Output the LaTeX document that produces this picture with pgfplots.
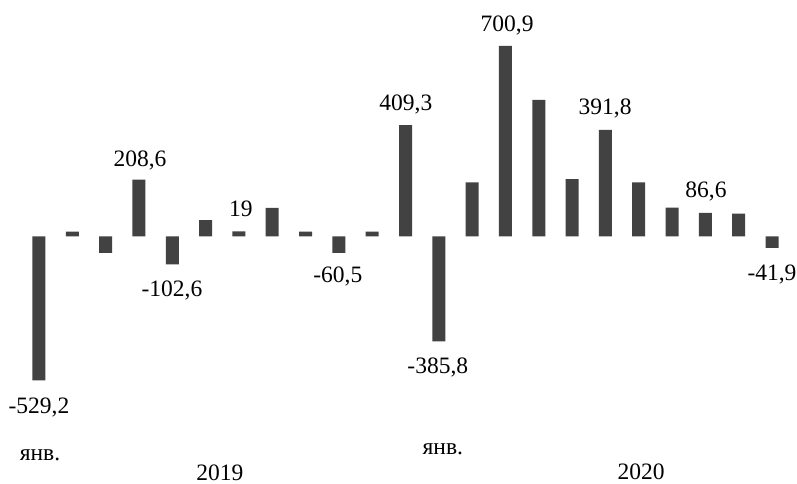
\documentclass[border=0pt]{standalone}
\usepackage{fontspec}
\setmainfont{Liberation Serif}
\usepackage{pgfplots}
\pgfplotsset{compat=1.18}
\definecolor{barc}{RGB}{66,66,66}

\begin{document}
\fontsize{23.5}{28}\selectfont
\begin{tikzpicture}
\begin{axis}[
    scale only axis,
    width=797pt, height=484pt,
    hide axis,
    clip=false,
    xmin=-1.17, xmax=22.75,
    ymin=-910, ymax=869.5,
    ybar, bar width=13pt,
]
\addplot[fill=barc, draw=none] coordinates {
    (0,-529.2) (1,18) (2,-60) (3,208.6) (4,-102.6) (5,60)
    (6,19) (7,105) (8,18) (9,-60.5) (10,18) (11,409.3)
    (12,-385.8) (13,199) (14,700.9) (15,502) (16,211) (17,391.8)
    (18,199) (19,106) (20,86.6) (21,84) (22,-41.9)
};
% value labels
\node[anchor=base] at (axis cs:0,-649) {-529,2};
\node[anchor=base] at (axis cs:3.03,259) {208,6};
\node[anchor=base] at (axis cs:3.99,-222) {-102,6};
\node[anchor=base] at (axis cs:6.06,72) {19};
\node[anchor=base] at (axis cs:8.97,-171) {-60,5};
\node[anchor=base] at (axis cs:11.01,465) {409,3};
\node[anchor=base] at (axis cs:11.97,-502) {-385,8};
\node[anchor=base] at (axis cs:14.05,755) {700,9};
\node[anchor=base] at (axis cs:16.99,447) {391,8};
\node[anchor=base] at (axis cs:20.02,142) {86,6};
\node[anchor=base] at (axis cs:22,-160) {-41,9};
% month / year labels
\node[anchor=base] at (axis cs:0.03,-822) {янв.};
\node[anchor=base] at (axis cs:12.12,-803) {янв.};
\node[anchor=base] at (axis cs:5.43,-896) {2019};
\node[anchor=base] at (axis cs:18.07,-894) {2020};
\coordinate (bl) at (rel axis cs:0,0);
\coordinate (tr) at (rel axis cs:1,1);
\end{axis}
\pgfresetboundingbox
\useasboundingbox (bl) rectangle (tr);
\end{tikzpicture}
\end{document}
